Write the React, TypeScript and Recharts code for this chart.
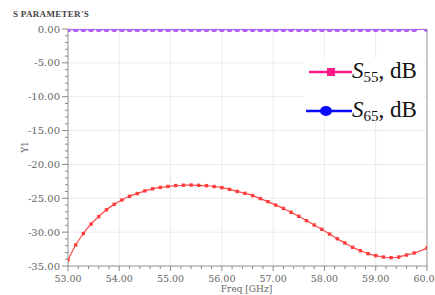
import React from "react";
import {
  LineChart,
  Line,
  XAxis,
  YAxis,
  CartesianGrid,
  ReferenceLine,
} from "recharts";

const freq = [
  53.0, 53.15, 53.3, 53.45, 53.6, 53.75, 53.9, 54.05, 54.2, 54.35, 54.5, 54.65,
  54.8, 54.95, 55.1, 55.25, 55.4, 55.55, 55.7, 55.85, 56.0, 56.15, 56.3, 56.45,
  56.6, 56.75, 56.9, 57.05, 57.2, 57.35, 57.5, 57.65, 57.8, 57.95, 58.1, 58.25,
  58.4, 58.55, 58.7, 58.85, 59.0, 59.15, 59.3, 59.45, 59.6, 59.75, 60.0,
];

const s56 = [
  -34.1, -31.9, -30.2, -28.8, -27.7, -26.7, -25.9, -25.25, -24.7, -24.3, -23.9,
  -23.6, -23.4, -23.25, -23.12, -23.07, -23.05, -23.08, -23.15, -23.27, -23.43,
  -23.68, -23.98, -24.27, -24.6, -25.05, -25.5, -26.0, -26.5, -27.07, -27.66,
  -28.3, -28.95, -29.58, -30.28, -30.97, -31.6, -32.24, -32.74, -33.18, -33.47,
  -33.67, -33.77, -33.67, -33.38, -33.08, -32.34,
];

const s55 = [
  0, 0, 0, 0, 0, 0, 0, 0, 0, 0, 0, 0, 0, 0, 0, 0, 0, 0, 0, 0, 0, 0, 0, 0, 0, 0,
  0, 0, 0, 0, 0, 0, 0, 0, 0, 0, 0, 0, 0, 0, 0, 0, 0, 0, 0, 0, 0,
];

const s65 = [
  0, 0, 0, 0, 0, 0, 0, 0, 0, 0, 0, 0, 0, 0, 0, 0, 0, 0, 0, 0, 0, 0, 0, 0, 0, 0,
  0, 0, 0, 0, 0, 0, 0, 0, 0, 0, 0, 0, 0, 0, 0, 0, 0, 0, 0, 0, 0,
];

const xMajorTicks = [53, 54, 55, 56, 57, 58, 59, 60];
const yMajorTicks = [0, -5, -10, -15, -20, -25, -30, -35];

const xAllTicks: number[] = [];
for (let i = 0; i <= 35; i++) xAllTicks.push(+(53 + i * 0.2).toFixed(2));
const yAllTicks: number[] = [];
for (let v = 0; v >= -35; v--) yAllTicks.push(v);

const data = freq.map((f, i) => ({
  f,
  s56: s56[i],
  s55: s55[i],
  s65: s65[i],
}));

const isMajor = (v: number, step: number) =>
  Math.abs(v / step - Math.round(v / step)) < 1e-6;

const XTick = (props: any) => {
  const { x, y, payload } = props;
  const v = payload.value as number;
  const major = isMajor(v, 1);
  return (
    <g>
      <line x1={x} x2={x} y1={y} y2={y + (major ? 5 : 3)} stroke="#888" />
      {major && (
        <text
          x={x}
          y={y + 16}
          textAnchor="middle"
          fontSize={9.5}
          fontFamily="DejaVu Serif"
          fill="#666"
        >
          {v.toFixed(2)}
        </text>
      )}
    </g>
  );
};

const YTick = (props: any) => {
  const { x, y, payload } = props;
  const v = payload.value as number;
  const major = isMajor(v, 5);
  return (
    <g>
      <line x1={x - (major ? 6 : 3)} x2={x} y1={y} y2={y} stroke="#888" />
      {major && (
        <text
          x={x - 8}
          y={y + 3.5}
          textAnchor="end"
          fontSize={10}
          fontFamily="DejaVu Serif"
          fill="#666"
        >
          {v.toFixed(2)}
        </text>
      )}
    </g>
  );
};

const RedDot = (props: any) => {
  const { cx, cy, index } = props;
  if (cx == null || cy == null) return <g key={index} />;
  return (
    <rect key={index} x={cx - 1.7} y={cy - 1.7} width={3.4} height={3.4} fill="#ff3c3c" />
  );
};

const VioletDot = (props: any) => {
  const { cx, cy, index } = props;
  if (cx == null || cy == null) return <g key={index} />;
  return <circle key={index} cx={cx} cy={cy} r={3} fill="#b060f5" />;
};

const LegendLabel = ({ sub }: { sub: string }) => (
  <span
    style={{
      fontFamily: "Liberation Serif",
      fontSize: 23,
      color: "#111",
      whiteSpace: "nowrap",
    }}
  >
    <i>S</i>
    <sub style={{ fontSize: 15, verticalAlign: "-4px" }}>{sub}</sub>, dB
  </span>
);

export default function App() {
  return (
    <div
      style={{
        position: "absolute",
        left: 0,
        top: 0,
        width: 435,
        height: 295,
        background: "#fff",
      }}
    >
      <LineChart
        width={435}
        height={295}
        data={data}
        margin={{ top: 29, right: 8, bottom: 0, left: 0 }}
      >
        <CartesianGrid
          stroke="#ebebeb"
          horizontalValues={yMajorTicks}
          verticalValues={xMajorTicks}
        />
        <XAxis
          dataKey="f"
          type="number"
          domain={[53, 60]}
          ticks={xAllTicks}
          interval={0}
          tick={<XTick />}
          tickLine={false}
          tickSize={0}
          tickMargin={0}
          height={29}
          axisLine={{ stroke: "#999" }}
          allowDataOverflow
        />
        <YAxis
          type="number"
          domain={[-35, 0]}
          ticks={yAllTicks}
          interval={0}
          tick={<YTick />}
          tickLine={false}
          tickSize={0}
          tickMargin={0}
          width={68}
          axisLine={{ stroke: "#999" }}
          allowDataOverflow
        />
        <ReferenceLine x={60} stroke="#bbb" strokeWidth={1.5} />
        <Line
          dataKey="s56"
          stroke="#ff4a4a"
          strokeWidth={1.2}
          type="monotone"
          dot={<RedDot />}
          isAnimationActive={false}
        />
        <Line
          dataKey="s65"
          stroke="#b060f5"
          strokeWidth={2}
          type="linear"
          dot={<VioletDot />}
          isAnimationActive={false}
        />
        <Line
          dataKey="s55"
          stroke="#b060f5"
          strokeWidth={2}
          type="linear"
          dot={<VioletDot />}
          isAnimationActive={false}
        />
      </LineChart>

      <div
        style={{
          position: "absolute",
          left: 13,
          top: 9,
          fontFamily: "Liberation Serif",
          fontWeight: "bold",
          fontSize: 9,
          color: "#444",
          letterSpacing: 0.3,
        }}
      >
        S PARAMETER'S
      </div>

      <div
        style={{
          position: "absolute",
          left: 19,
          top: 142,
          transform: "rotate(-90deg)",
          fontFamily: "DejaVu Serif",
          fontSize: 9,
          color: "#666",
        }}
      >
        Y1
      </div>

      <div
        style={{
          position: "absolute",
          left: 0,
          width: 435,
          top: 284,
          textAlign: "center",
          paddingLeft: 58,
          boxSizing: "border-box",
          fontFamily: "DejaVu Serif",
          fontSize: 9,
          color: "#666",
        }}
      >
        Freq [GHz]
      </div>

      <div
        style={{
          position: "absolute",
          left: 304,
          top: 58,
          width: 119,
          height: 64,
          background: "#fff",
        }}
      >
        <div style={{ position: "absolute", left: 4, top: 0, display: "flex", alignItems: "center" }}>
          <svg width={44} height={26}>
            <line x1={1} x2={44} y1={13} y2={13} stroke="#ff1a8c" strokeWidth={2.5} />
            <rect x={19} y={9} width={8} height={8} fill="#ff1a8c" />
          </svg>
          <LegendLabel sub="55" />
        </div>
        <div style={{ position: "absolute", left: 1, top: 39, display: "flex", alignItems: "center" }}>
          <svg width={47} height={26}>
            <line x1={1} x2={47} y1={13} y2={13} stroke="#0a0aff" strokeWidth={2.5} />
            <ellipse cx={21} cy={13} rx={6} ry={5} fill="#0a0aff" />
          </svg>
          <LegendLabel sub="65" />
        </div>
      </div>
    </div>
  );
}
